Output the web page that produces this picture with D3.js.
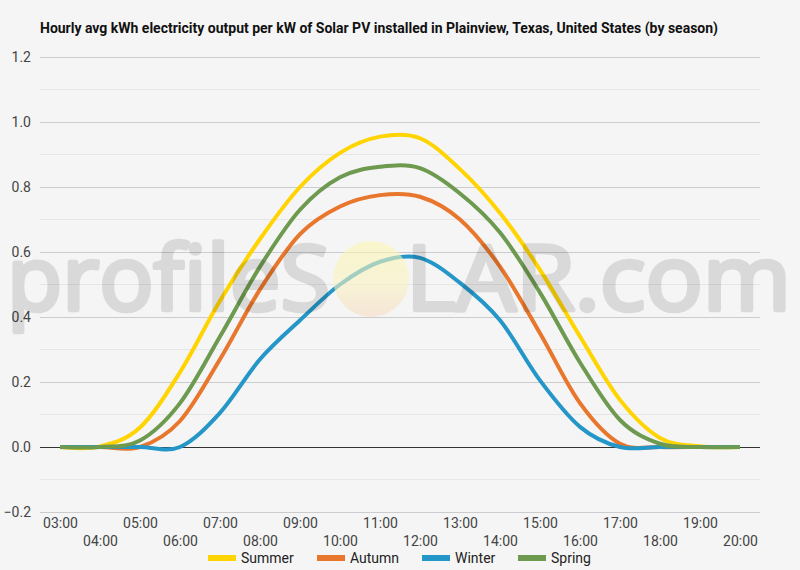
<!DOCTYPE html>
<html>
<head>
<meta charset="utf-8">
<script src="https://cdn.jsdelivr.net/npm/d3@7"></script>
<style>
  body { margin: 0; background: #f5f5f5; }
  svg { display: block; font-family: Roboto, sans-serif; }
</style>
</head>
<body>
<svg id="chart" width="800" height="570"></svg>
<script>
const HOURS = ['03:00', '04:00', '05:00', '06:00', '07:00', '08:00', '09:00', '10:00', '11:00',
    '12:00', '13:00', '14:00', '15:00', '16:00', '17:00', '18:00', '19:00', '20:00'];

const SUMMER = [0, 0.002, 0.06, 0.23, 0.45, 0.64, 0.80, 0.905, 0.955, 0.95, 0.855, 0.72, 0.545, 0.34, 0.145, 0.028, 0.002, 0];
const AUTUMN = [0, 0, 0, 0.08, 0.27, 0.485, 0.655, 0.74, 0.775, 0.77, 0.70, 0.555, 0.35, 0.135, 0.01, 0, 0, 0];
const WINTER = [0, 0, 0, 0, 0.105, 0.27, 0.39, 0.50, 0.57, 0.582, 0.505, 0.39, 0.205, 0.062, 0, 0, 0, 0];
const SPRING = [0, 0, 0.02, 0.135, 0.34, 0.555, 0.73, 0.83, 0.862, 0.858, 0.78, 0.66, 0.475, 0.26, 0.083, 0.01, 0, 0];

const SERIES_NAMES = ['Summer', 'Autumn', 'Winter', 'Spring'];
const Y_TICKS = [-0.2, 0, 0.2, 0.4, 0.6, 0.8, 1.0, 1.2];
const TITLE = 'Hourly avg kWh electricity output per kW of Solar PV installed in Plainview, Texas, United States (by season)';

const COLORS = ['#ffd400', '#e8762c', '#2596c8', '#6e9a50'];

const series = [SUMMER, AUTUMN, WINTER, SPRING].map((values, i) => ({
    name: SERIES_NAMES[i],
    color: COLORS[i],
    values: values
}));

const CHART = {left: 40, right: 760, top: 57, bottom: 512};

const svg = d3.select('#chart');

svg.append('rect').attr('width', 800).attr('height', 570).attr('fill', '#f5f5f5');

const xScale = d3.scalePoint().domain(HOURS).range([CHART.left, CHART.right]).padding(0.5);
const yScale = d3.scaleLinear().domain([-0.2, 1.2]).range([CHART.bottom, CHART.top]);

// title
svg.append('text')
    .attr('x', 40).attr('y', 33)
    .attr('font-size', 14).attr('font-weight', 'bold').attr('fill', '#111')
    .attr('textLength', 678).attr('lengthAdjust', 'spacingAndGlyphs')
    .text(TITLE);

// minor gridlines
const minor = d3.range(-0.1, 1.2, 0.2);
svg.append('g').selectAll('line').data(minor).enter().append('line')
    .attr('x1', CHART.left).attr('x2', CHART.right)
    .attr('y1', (d) => yScale(d)).attr('y2', (d) => yScale(d))
    .attr('stroke', '#e6e6e6').attr('stroke-width', 1);

// y axis with major gridlines
const yAxis = d3.axisLeft(yScale)
    .tickValues(Y_TICKS)
    .tickFormat(d3.format('.1f'))
    .tickSize(-(CHART.right - CHART.left))
    .tickPadding(9);

const yAxisG = svg.append('g')
    .attr('transform', `translate(${CHART.left},0)`)
    .call(yAxis);
yAxisG.select('.domain').remove();
yAxisG.selectAll('line')
    .attr('stroke', (d) => d === 0 ? '#333' : '#cccccc');
yAxisG.selectAll('text')
    .attr('font-family', 'Roboto, sans-serif')
    .attr('font-size', 14).attr('fill', '#444');

// x axis labels in two staggered rows
const xAxis = d3.axisBottom(xScale).tickSize(0).tickPadding(0);
const xAxisG = svg.append('g')
    .attr('transform', `translate(0,${CHART.bottom})`)
    .call(xAxis);
xAxisG.select('.domain').remove();
xAxisG.selectAll('text')
    .attr('font-family', 'Roboto, sans-serif')
    .attr('font-size', 14).attr('fill', '#444')
    .attr('dy', null)
    .attr('y', (d, i) => i % 2 === 0 ? 16 : 34);

// lines
const line = d3.line()
    .x((d, i) => xScale(HOURS[i]))
    .y((d) => yScale(d))
    .curve(d3.curveCatmullRom.alpha(0));

svg.append('g').selectAll('path').data(series).enter().append('path')
    .attr('fill', 'none')
    .attr('stroke', (d) => d.color)
    .attr('stroke-width', 4)
    .attr('stroke-linejoin', 'round')
    .attr('d', (d) => line(d.values));

// watermark overlay
const defs = svg.append('defs');
const grad = defs.append('linearGradient').attr('id', 'sun').attr('x1', 0).attr('y1', 0).attr('x2', 0).attr('y2', 1);
grad.append('stop').attr('offset', '0%').attr('stop-color', '#fbf7b0');
grad.append('stop').attr('offset', '55%').attr('stop-color', '#f9f2c0');
grad.append('stop').attr('offset', '100%').attr('stop-color', '#f6dcc4');

const mark = svg.append('g').attr('pointer-events', 'none').attr('opacity', 0.11);
mark.selectAll('text').data([
    {text: 'profileS', x: 7, len: 323},
    {text: 'LAR.com', x: 406, len: 385}
]).enter().append('text')
    .attr('x', (d) => d.x).attr('y', 310)
    .attr('font-family', '"Open Sans", sans-serif').attr('font-size', 90)
    .attr('fill', '#000').attr('stroke', '#000').attr('stroke-width', 4.5)
    .attr('stroke-linejoin', 'round')
    .attr('textLength', (d) => d.len).attr('lengthAdjust', 'spacingAndGlyphs')
    .text((d) => d.text);

svg.append('circle')
    .attr('cx', 371).attr('cy', 279).attr('r', 38)
    .attr('fill', 'url(#sun)').attr('fill-opacity', 0.6);

// legend
const LEGEND_X = [208, 317, 422, 518];
const legend = svg.append('g').selectAll('g').data(series).enter().append('g')
    .attr('transform', (d, i) => `translate(${LEGEND_X[i]},558)`);
legend.append('rect')
    .attr('x', 0).attr('y', -3).attr('width', 28).attr('height', 6)
    .attr('fill', (d) => d.color);
legend.append('text')
    .attr('x', 33).attr('y', 5)
    .attr('font-size', 14).attr('fill', '#222')
    .text((d) => d.name);
</script>
</body>
</html>
